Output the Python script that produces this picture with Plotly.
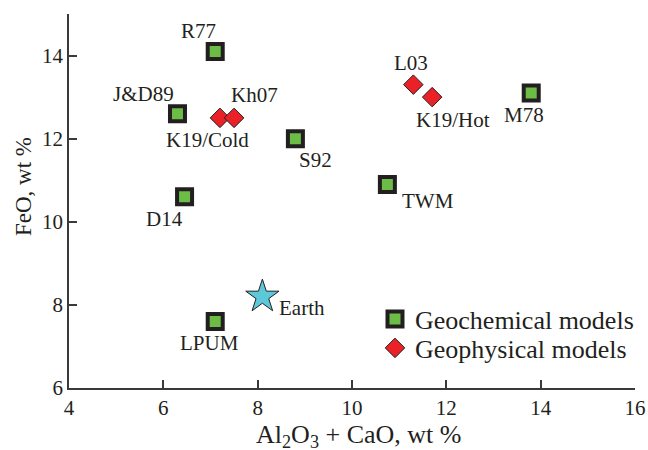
import plotly.graph_objects as go

# Geochemical (bulk-composition) models of the lunar mantle
geo_names = ["R77", "J&D89", "S92", "D14", "TWM", "M78", "LPUM"]
geo_al_ca = [7.1, 6.3, 8.8, 6.45, 10.75, 13.8, 7.1]
geo_feo = [14.1, 12.6, 12.0, 10.6, 10.9, 13.1, 7.6]

# Geophysical models
phys_names = ["K19/Cold", "Kh07", "L03", "K19/Hot"]
phys_al_ca = [7.2, 7.5, 11.3, 11.7]
phys_feo = [12.5, 12.5, 13.3, 13.0]

# Reference composition
earth_name = "Earth"
earth_al_ca = [8.1]
earth_feo = [8.2]

x_ticks = [4, 6, 8, 10, 12, 14, 16]
y_ticks = [6, 8, 10, 12, 14]

# label offsets from their markers, in pixels (dx right, dy down)
label_shift = {
    "R77": (-17, -20), "J&D89": (-34, -20), "S92": (20, 21), "D14": (-20, 22),
    "TWM": (41, 17), "M78": (-7, 22), "LPUM": (-6, 21),
    "K19/Cold": (-12, 22), "Kh07": (20, -23), "L03": (-2, -22), "K19/Hot": (21, 23),
    "Earth": (40, 11),
}

SERIF = "Liberation Serif"
INK = "#231f20"
GREEN = "#6bbd45"
RED = "#ea2227"
CYAN = "#5cc8d9"

fig = go.Figure()

fig.add_trace(go.Scatter(
    x=geo_al_ca, y=geo_feo, mode="markers", name="Geochemical models", legend="legend",
    marker=dict(symbol="square", size=15, color=GREEN, line=dict(color=INK, width=4)),
))
fig.add_trace(go.Scatter(
    x=phys_al_ca, y=phys_feo, mode="markers", name="Geophysical models", legend="legend2",
    marker=dict(symbol="diamond", size=15, color=RED, line=dict(color=INK, width=1)),
))
fig.add_trace(go.Scatter(
    x=earth_al_ca, y=earth_feo, mode="markers", name=earth_name, showlegend=False,
    marker=dict(symbol="star", size=25, color=CYAN, line=dict(color=INK, width=1)),
))

names = geo_names + phys_names + [earth_name]
xs = geo_al_ca + phys_al_ca + earth_al_ca
ys = geo_feo + phys_feo + earth_feo
for n, x, y in zip(names, xs, ys):
    dx, dy = label_shift[n]
    fig.add_annotation(
        x=x, y=y, xref="x", yref="y", text=n, showarrow=False,
        xanchor="center", yanchor="middle",
        xshift=dx, yshift=-dy, font=dict(family=SERIF, size=21, color=INK),
    )

# axis titles
fig.add_annotation(
    x=0.5, y=0, xref="paper", yref="paper", xshift=6, yshift=-48,
    xanchor="center", yanchor="middle",
    text="Al<sub>2</sub>O<sub>3</sub> + CaO, wt %", showarrow=False,
    font=dict(family=SERIF, size=26, color=INK),
)
fig.add_annotation(
    x=0, y=0.5, xref="paper", yref="paper", xshift=-46, yshift=14,
    xanchor="center", yanchor="middle",
    text="FeO, wt %", textangle=-90, showarrow=False,
    font=dict(family=SERIF, size=23, color=INK),
)

axis_common = dict(
    showgrid=False, zeroline=False, showline=True, linecolor="#3a3a3a", linewidth=1.5,
    ticks="inside", ticklen=8, tickwidth=1.5, tickcolor="#3a3a3a",
    tickfont=dict(family=SERIF, size=21, color=INK), mirror=False, automargin=False,
)
fig.update_xaxes(range=[4, 16], tickvals=x_ticks, **axis_common)
fig.update_yaxes(range=[6, 15], tickvals=y_ticks, **axis_common)

legend_common = dict(
    xref="container", yref="container",
    xanchor="left", yanchor="middle",
    font=dict(family=SERIF, size=26, color=INK),
    bgcolor="rgba(0,0,0,0)", itemwidth=30,
)
fig.update_layout(
    width=648, height=450,
    margin=dict(l=69, r=13, t=14, b=62, autoexpand=False),
    paper_bgcolor="white", plot_bgcolor="white",
    showlegend=True,
    legend=dict(x=0.5787, y=0.291, **legend_common),
    legend2=dict(x=0.5787, y=0.2267, **legend_common),
)

fig.write_html("out.html")
